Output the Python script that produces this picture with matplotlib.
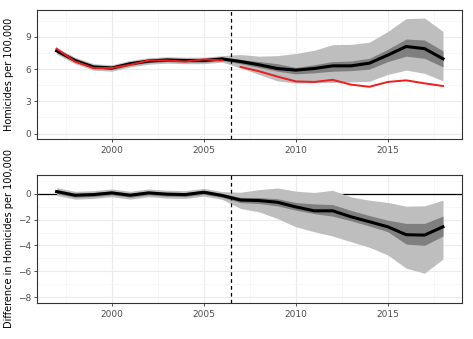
import matplotlib.pyplot as plt
import numpy as np

# years
years = np.arange(1997, 2019)
pre_years = np.arange(1997, 2007)
post_years = np.arange(2007, 2019)

# actual homicide rate (red), pre and post treatment
actual_pre = [7.9, 6.7, 6.1, 6.1, 6.4, 6.8, 6.8, 6.7, 6.9, 6.8]
actual_post = [6.2, 5.8, 5.3, 4.85, 4.8, 5.0, 4.55, 4.35, 4.8, 4.95, 4.67, 4.42]

# synthetic control (black) with bands
synth = [7.7, 6.8, 6.2, 6.1, 6.5, 6.75, 6.85, 6.8, 6.8, 6.95,
         6.7, 6.4, 6.05, 5.9, 6.05, 6.3, 6.3, 6.55, 7.3, 8.1, 7.9, 6.96]
synth_lo95 = [7.4, 6.5, 5.9, 5.8, 6.2, 6.45, 6.55, 6.5, 6.5, 6.65,
              6.1, 5.5, 4.9, 4.7, 4.72, 4.75, 4.8, 4.86, 5.5, 5.9, 5.6, 4.9]
synth_hi95 = [8.0, 7.1, 6.5, 6.4, 6.8, 7.05, 7.15, 7.1, 7.1, 7.25,
              7.35, 7.2, 7.25, 7.45, 7.75, 8.27, 8.3, 8.5, 9.5, 10.7, 10.75, 9.5]
synth_lo50 = [7.55, 6.65, 6.05, 5.95, 6.35, 6.6, 6.7, 6.65, 6.65, 6.8,
              6.5, 6.15, 5.8, 5.55, 5.65, 5.8, 5.85, 6.0, 6.7, 7.2, 7.0, 6.2]
synth_hi50 = [7.85, 6.95, 6.35, 6.25, 6.65, 6.9, 7.0, 6.95, 6.95, 7.1,
              6.9, 6.7, 6.5, 6.15, 6.4, 6.7, 6.75, 7.0, 7.85, 8.8, 8.7, 7.7]

# difference (actual - synthetic)
diff = [0.15, -0.13, -0.08, 0.05, -0.13, 0.05, -0.05, -0.08, 0.1, -0.15,
        -0.5, -0.54, -0.67, -1.03, -1.33, -1.33, -1.79, -2.17, -2.56, -3.17, -3.2, -2.56]
diff_lo95 = [-0.15, -0.43, -0.38, -0.25, -0.43, -0.25, -0.35, -0.38, -0.2, -0.45,
             -1.15, -1.41, -1.92, -2.56, -2.94, -3.27, -3.71, -4.14, -4.73, -5.75, -6.13, -5.04]
diff_hi95 = [0.45, 0.17, 0.22, 0.35, 0.17, 0.35, 0.25, 0.22, 0.4, 0.15,
             0.1, 0.3, 0.43, 0.18, 0.08, 0.25, -0.26, -0.51, -0.69, -0.97, -0.95, -0.51]
diff_lo50 = [0.0, -0.28, -0.23, -0.1, -0.28, -0.1, -0.2, -0.23, -0.05, -0.3,
             -0.7, -0.77, -0.95, -1.28, -1.55, -1.74, -2.1, -2.5, -2.94, -3.89, -3.99, -3.27]
diff_hi50 = [0.3, 0.02, 0.07, 0.2, 0.02, 0.2, 0.1, 0.07, 0.25, 0.0,
             -0.3, -0.31, -0.4, -0.69, -0.8, -0.85, -1.3, -1.7, -2.05, -2.3, -2.3, -1.74]

treat_year = 2006.5

fig = plt.figure(figsize=(4.73, 3.39), dpi=100)
W, H = 473, 339
ax1 = fig.add_axes([37.3 / W, 1 - 139.3 / H, (462.3 - 37.3) / W, (139.3 - 10) / H])
ax2 = fig.add_axes([37.3 / W, 1 - 303.3 / H, (462.3 - 37.3) / W, (303.3 - 174.7) / H])

light = '#BEBEBE'
dark = '#7F7F7F'
grid_c = '#EBEBEB'


def style(ax, ylim, yticks, yminor):
    ax.set_xlim(1995.95, 2019.05)
    ax.set_ylim(*ylim)
    ax.set_xticks([2000, 2005, 2010, 2015])
    ax.set_xticks([1997.5, 2002.5, 2007.5, 2012.5, 2017.5], minor=True)
    ax.set_yticks(yticks)
    ax.set_yticks(yminor, minor=True)
    ax.grid(True, which='major', color=grid_c, lw=0.8, zorder=0)
    ax.grid(True, which='minor', color='#F4F4F4', lw=0.5, zorder=0)
    ax.set_axisbelow(True)
    for s in ax.spines.values():
        s.set_color('#333333')
        s.set_linewidth(0.8)
    ax.tick_params(which='major', length=2.5, width=0.6, color='#333333',
                   labelsize=6.5, labelcolor='#4D4D4D', pad=2)
    ax.tick_params(which='minor', length=0)


# top panel
ax1.fill_between(years, synth_lo95, synth_hi95, color=light, lw=0, zorder=2)
ax1.fill_between(years, synth_lo50, synth_hi50, color=dark, lw=0, zorder=3)
ax1.plot(years, synth, color='black', lw=2.2, zorder=4)
ax1.plot(pre_years, actual_pre, color='#EE1C1C', lw=1.4, zorder=5)
ax1.plot(post_years, actual_post, color='#EE1C1C', lw=1.4, zorder=5)
ax1.axvline(treat_year, color='black', ls=(0, (3, 2.5)), lw=0.9, zorder=6)
style(ax1, (-0.54, 11.5), [0, 3, 6, 9], [1.5, 4.5, 7.5, 10.5])
ax1.set_ylabel('Homicides per 100,000', fontsize=7)
ax1.yaxis.set_label_coords(14 / W, 1 - 74.5 / H, transform=fig.transFigure)

# bottom panel
ax2.axhline(0, color='black', lw=0.9, zorder=2)
ax2.fill_between(years, diff_lo95, diff_hi95, color=light, lw=0, zorder=3)
ax2.fill_between(years, diff_lo50, diff_hi50, color=dark, lw=0, zorder=4)
ax2.plot(years, diff, color='black', lw=2.2, zorder=5)
ax2.axvline(treat_year, color='black', ls=(0, (3, 2.5)), lw=0.9, zorder=6)
style(ax2, (-8.45, 1.45), [-8, -6, -4, -2, 0], [-7, -5, -3, -1, 1])
ax2.set_ylabel('Difference in Homicides per 100,000', fontsize=7)
ax2.yaxis.set_label_coords(14 / W, 1 - 239 / H, transform=fig.transFigure)

fig.savefig('out.png', dpi=100)
